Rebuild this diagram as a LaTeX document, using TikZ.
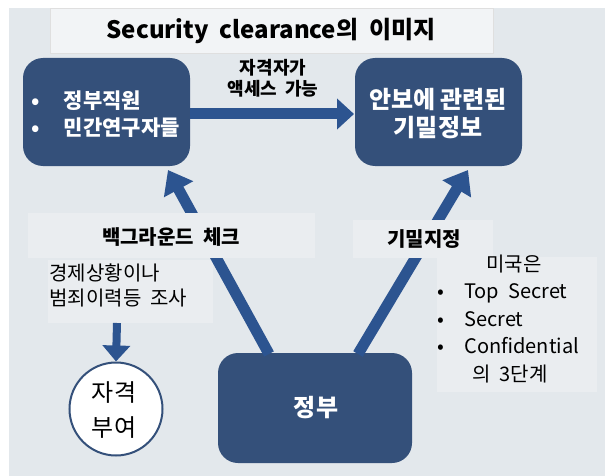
\documentclass[tikz,border=0pt]{standalone}
\usepackage{fontspec}
\setmainfont{Noto Sans CJK KR}
\usetikzlibrary{arrows.meta}
\definecolor{bgc}{HTML}{E3E8EC}
\definecolor{boxc}{HTML}{34507A}
\definecolor{arrc}{HTML}{2C5490}
\definecolor{labc}{HTML}{EAEDF0}
\tikzset{
  darkbox/.style={fill=boxc, rounded corners=20pt, draw=none},
  bigarrow/.style={draw=arrc, line width=11pt, -{Triangle[length=22pt,width=32pt]}},
  smallarrow/.style={draw=arrc, line width=8pt, -{Triangle[length=16pt,width=27pt]}},
  wtxt/.style={text=white, font=\fontsize{23}{28}\selectfont\bfseries, align=left},
  lab/.style={font=\fontsize{18}{21}\selectfont\bfseries, align=center},
  body/.style={font=\fontsize{20}{25}\selectfont, align=left},
}
\begin{document}
\begin{tikzpicture}[x=1pt,y=-1pt]
\useasboundingbox (0,0) rectangle (605,476);
\fill[white] (0,0) rectangle (605,476);
\fill[bgc] (9,8) rectangle (605,476);
% title
\node[draw=gray!25, fill=labc!60!white, minimum width=443pt, minimum height=45pt, inner sep=0pt] (titlebox) at (272,31) {};
\node[font=\fontsize{24}{28}\selectfont\bfseries] (title) at (271,31) {Security\ \ clearance의\ \ 이미지};
% label backgrounds
\fill[labc] (48,260) rectangle (213,323);
\fill[labc] (437,257) rectangle (597,392);
% boxes
\node[darkbox, minimum width=167pt, minimum height=108pt] (left) at (106.5,112) {};
\node[darkbox, minimum width=167pt, minimum height=108pt] (right) at (438.5,112) {};
\node[darkbox, minimum width=194pt, minimum height=110pt] (gov) at (315,408) {};
\node[wtxt, anchor=west, font=\fontsize{21}{28}\selectfont\bfseries] (lefttxt) at (28,114) {•\hspace{24pt}정부직원\\[-1pt]•\hspace{24pt}민간연구자들};
\node[wtxt, align=center, font=\fontsize{24}{28}\selectfont\bfseries] (righttxt) at (438,114) {안보에\ 관련된\\[0pt]기밀정보};
\node[wtxt, font=\fontsize{24}{28}\selectfont\bfseries] (govtxt) at (316,408) {정부};
% coordinates
\coordinate (hA) at (190,114);
\coordinate (hB) at (354,114);
\coordinate (lA) at (269,354);
\coordinate (lB) at (168,170);
\coordinate (rA) at (358,354);
\coordinate (rB) at (468,170);
% arrows
\draw[bigarrow, -{Triangle[length=17pt,width=30pt]}] (hA) -- (hB);
\draw[bigarrow] (lA) -- (lB);
\draw[bigarrow] (rA) -- (rB);
% label backgrounds over arrows
\fill[labc] (28,213) rectangle (315,258);
\fill[labc] (353,220) rectangle (493,258);
\node[lab] (hlab) at (273,78) {자격자가\\액세스\ \ 가능};
\node[lab, font=\fontsize{20}{22}\selectfont\bfseries] (llab) at (171,237) {백그라운드\ \ 체크};
\node[lab, font=\fontsize{20}{22}\selectfont\bfseries] (rlab) at (424,239) {기밀지정};
\node[body, anchor=north west] (chk) at (46,260) {경제상황이나\\범죄이력등\ \ 조사};
% small arrow and circle
\node[draw=boxc, line width=2pt, fill=white, circle, minimum size=93pt, inner sep=0pt] (circ) at (116,409) {};
\node[font=\fontsize{24}{35}\selectfont, align=center] (circtxt) at (114,410) {자격\\부여};
\coordinate (sA) at (117,323);
\draw[smallarrow] (sA) -- (circ.north);
% right list
\node[body, anchor=north west, font=\fontsize{20}{27.5}\selectfont] (list) at (434,251) {\hspace{49pt}미국은\\•\hspace{20pt}Top\ \ Secret\\•\hspace{20pt}Secret\\•\hspace{20pt}Confidential\\\hspace{35pt}의\ \ 3단계};
\end{tikzpicture}
\end{document}
